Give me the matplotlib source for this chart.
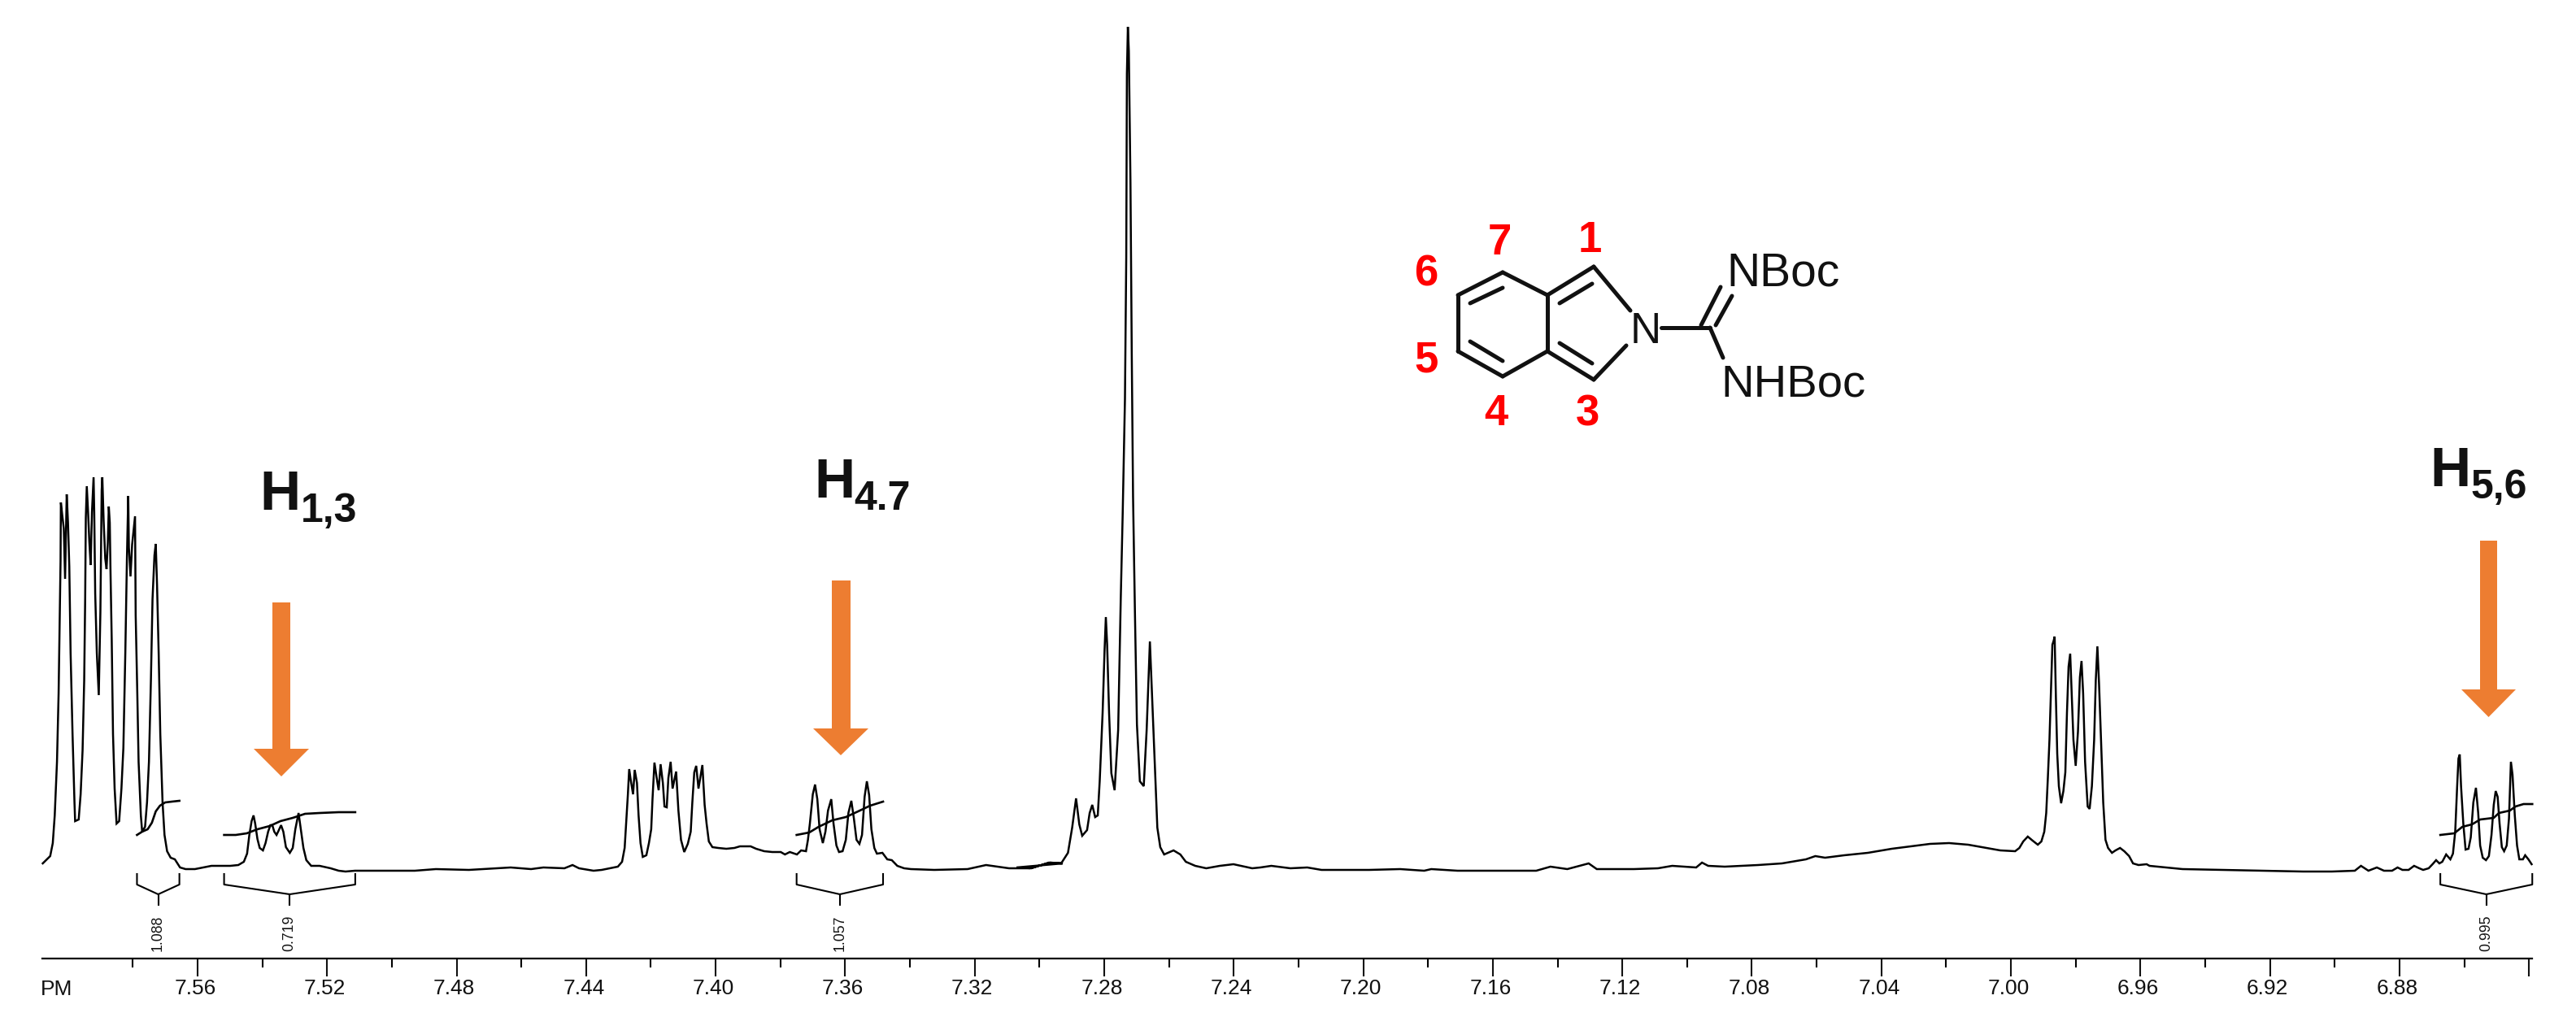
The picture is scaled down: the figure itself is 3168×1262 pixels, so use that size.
import numpy as np
import matplotlib
matplotlib.use("Agg")
import matplotlib.pyplot as plt
from matplotlib.patches import Polygon
from matplotlib.transforms import Affine2D, ScaledTranslation
from matplotlib.ticker import FixedLocator, FixedFormatter

plt.rcParams['font.family'] = ['Liberation Sans', 'DejaVu Sans']

# ---- spectrum: chemical shift (ppm) and intensity (a.u.)
ppm_a = [7.6078,7.6055,7.6047,7.6041,7.6034,7.6029,7.6026,7.6023,7.6022,7.6018,7.6013,7.6009,7.6004,7.6000,7.5996,7.5992,7.5986,7.5980,7.5978,7.5967,7.5961,7.5955,7.5950,7.5947,7.5945,7.5942,7.5938,7.5934,7.5930,7.5926,7.5921,7.5919,7.5916,7.5911,7.5905,7.5900,7.5896,7.5894,7.5890,7.5885,7.5881,7.5877,7.5874,7.5871,7.5869,7.5865,7.5861,7.5856,7.5850,7.5842,7.5835,7.5829,7.5823,7.5818,7.5814,7.5812,7.5807,7.5802,7.5793,7.5791,7.5786,7.5782,7.5775,7.5771,7.5762,7.5756,7.5750,7.5744,7.5739,7.5733,7.5729,7.5725,7.5720,7.5715,7.5708,7.5702,7.5694,7.5683,7.5670,7.5654,7.5637,7.5608]
int_a = [8,17,33,67,133,217,300,380,452,437,420,358,462,427,373,267,167,83,60,62,93,147,233,333,433,472,440,403,375,440,483,440,340,267,215,317,467,483,430,383,370,403,447,427,373,283,167,100,57,60,100,150,267,383,460,397,361,400,435,313,217,133,67,47,53,83,133,233,333,387,401,350,267,167,83,43,23,15,13,3,1,1]

ppm_b = [7.5557,7.5532,7.5499,7.5474,7.5457,7.5447,7.5440,7.5433,7.5427,7.5422,7.5415,7.5408,7.5398,7.5390,7.5382,7.5375,7.5369,7.5363,7.5356,7.5350,7.5342,7.5335,7.5327,7.5315,7.5306,7.5298,7.5288,7.5281,7.5273,7.5264,7.5249,7.5223,7.5189,7.5164,7.5143,7.5114,7.5055]
int_b = [5,5,5,6,10,20,43,60,67,57,38,27,24,33,47,55,55,47,43,48,55,47,28,21,27,50,70,50,27,12,5,5,2,-1,-2,-1,-1]

ppm_c = [7.4929,7.4864,7.4762,7.4633,7.4570,7.4532,7.4467,7.4442,7.4422,7.4377]
int_c = [-1,1,0,3,1,3,2,6,2,-1]

ppm_d = [7.4352,7.4327,7.4302,7.4289,7.4281,7.4277,7.4271,7.4267,7.4262,7.4255,7.4250,7.4243,7.4238,7.4232,7.4225,7.4214,7.4206,7.4199,7.4195,7.4189,7.4182,7.4176,7.4170,7.4163,7.4158,7.4151,7.4146,7.4139,7.4133,7.4122,7.4115,7.4107,7.4097,7.4086,7.4077,7.4072,7.4066,7.4060,7.4053,7.4041,7.4034,7.4028,7.4021,7.4010,7.3992,7.3967,7.3942,7.3925,7.3892,7.3875,7.3850,7.3825]
int_d = [0,2,4,10,27,53,93,124,110,93,123,107,67,33,16,18,33,50,87,132,113,98,130,107,78,77,113,133,100,121,73,37,22,32,47,83,120,128,100,129,80,57,35,28,27,26,27,29,29,26,23,22]

ppm_f = [7.3799,7.3786,7.3771,7.3749,7.3736,7.3721,7.3715,7.3709,7.3700,7.3693,7.3686,7.3679,7.3669,7.3661,7.3653,7.3643,7.3636,7.3627,7.3619,7.3608,7.3598,7.3590,7.3581,7.3573,7.3565,7.3556,7.3548,7.3540,7.3533,7.3526,7.3519,7.3510,7.3502,7.3485,7.3470,7.3456,7.3439,7.3418,7.3397]
int_f = [22,19,22,19,24,23,37,57,93,105,87,50,33,47,73,87,57,30,22,23,37,70,85,63,37,32,43,90,109,92,50,27,20,21,13,12,5,2,1]

ppm_g = [7.3325,7.3222,7.3165,7.3094,7.3030,7.2966,7.2928]
int_g = [0,1,6,2,2,9,8]

ppm_h = [7.3071,7.3025,7.2971,7.2933,7.2912,7.2899,7.2887,7.2877,7.2868,7.2853,7.2845,7.2837,7.2828,7.2820,7.2814,7.2805,7.2799,7.2795,7.2791,7.2785,7.2778,7.2768,7.2757,7.2749,7.2743,7.2736,7.2732,7.2730,7.2727,7.2724,7.2719,7.2715,7.2711,7.2705,7.2699,7.2690,7.2678,7.2669,7.2659,7.2653,7.2644,7.2636,7.2627,7.2615,7.2598,7.2586,7.2565,7.2548,7.2519,7.2485,7.2443,7.2401,7.2343,7.2318]
int_h = [3,2,9,8,21,52,88,56,42,49,70,80,65,67,109,193,270,311,277,193,119,98,172,333,438,579,754,979,1037,1007,845,635,459,312,179,109,103,172,281,221,130,52,28,19,22,24,19,10,5,2,5,7,2,3]

ppm_i = [7.2284,7.2225,7.2173,7.2129,7.1982,7.1886,7.1812,7.1790,7.1709,7.1562,7.1466,7.1422,7.1370,7.1304,7.1279,7.1164,7.1090,7.1046,7.0972,7.0954,7.0935,7.0884,7.0781,7.0707,7.0633,7.0604,7.0574,7.0515,7.0442,7.0368,7.0309,7.0250,7.0191,7.0132]
int_i = [5,2,3,0,0,1,-1,1,-1,-1,-1,4,1,8,1,1,2,5,3,9,5,4,6,8,13,17,15,18,21,26,29,32,33,31]

ppm_j = [7.0033,6.9987,6.9974,6.9962,6.9948,6.9933,6.9917,6.9906,6.9897,6.9891,6.9886,6.9881,6.9876,6.9872,6.9868,6.9865,6.9861,6.9857,6.9852,6.9845,6.9838,6.9832,6.9827,6.9822,6.9817,6.9813,6.9807,6.9800,6.9793,6.9787,6.9782,6.9777,6.9771,6.9763,6.9757,6.9750,6.9743,6.9738,6.9733,6.9728,6.9722,6.9715,6.9708,6.9700,6.9688,6.9677,6.9663,6.9650,6.9635,6.9623,6.9606,6.9581]
int_j = [24,23,27,35,41,36,31,35,47,70,113,160,227,277,282,287,210,143,103,82,97,120,193,250,266,223,160,128,170,237,257,217,133,78,75,103,160,233,275,230,163,83,37,27,21,24,27,23,17,8,6,7]

ppm_k = [6.9572,6.9470,6.9342,6.9226,6.9098,6.9009,6.8938,6.8919,6.8896,6.8870,6.8848,6.8823,6.8806,6.8791,6.8772,6.8755]
int_k = [5,1,0,-1,-2,-2,-1,5,-1,3,-1,-1,3,0,0,5]

ppm_l = [6.8739,6.8727,6.8710,6.8698,6.8687,6.8677,6.8668,6.8656,6.8643,6.8635,6.8628,6.8622,6.8618,6.8614,6.8610,6.8603,6.8596,6.8587,6.8580,6.8572,6.8564,6.8557,6.8551,6.8543,6.8533,6.8524,6.8516,6.8509,6.8503,6.8497,6.8491,6.8484,6.8477,6.8469,6.8462,6.8456,6.8451,6.8444,6.8437,6.8430,6.8419,6.8412,6.8402,6.8392]
int_l = [2,0,2,7,12,8,10,19,13,20,47,103,137,142,103,57,25,26,40,83,101,70,30,15,12,17,43,80,97,90,57,28,23,30,63,133,117,67,30,13,13,18,13,7]

# ---- integral curves
integ1_ppm = [7.5787,7.5771,7.5754,7.5741,7.5729,7.5716,7.5700,7.5679,7.5656]
integ1_int = [43,47,50,58,72,79,83,84,85]
integ2_ppm = [7.5518,7.5482,7.5448,7.5415,7.5377,7.5344,7.5306,7.5268,7.5223,7.5164,7.5113]
integ2_int = [43,43,45,50,54,60,64,69,70,71,71]
integ3_ppm = [7.3750,7.3711,7.3682,7.3640,7.3598,7.3560,7.3523,7.3483]
integ3_int = [43,46,53,61,65,72,79,84]
integ4_ppm = [6.8674,6.8631,6.8606,6.8576,6.8551,6.8509,6.8493,6.8459,6.8442,6.8417,6.8390]
integ4_int = [43,45,53,56,62,64,70,73,78,81,81]
integ_labels = ["1.088", "0.719", "1.057", "0.995"]

# ---- axis ticks
major_ticks = [7.56,7.52,7.48,7.44,7.40,7.36,7.32,7.28,7.24,7.20,7.16,7.12,7.08,7.04,7.00,6.96,6.92,6.88,6.84]
major_labels = ["7.56","7.52","7.48","7.44","7.40","7.36","7.32","7.28","7.24","7.20","7.16","7.12","7.08","7.04","7.00","6.96","6.92","6.88",""]
minor_ticks = [7.58,7.54,7.50,7.46,7.42,7.38,7.34,7.30,7.26,7.22,7.18,7.14,7.10,7.06,7.02,6.98,6.94,6.90,6.86]

W, H = 3168, 1262
fig = plt.figure(figsize=(W/100, H/100), dpi=100, facecolor='white')
ax = fig.add_axes([0, 0, 1, 1])
ax.set_xlim(7.6210, 6.8255)
ax.set_ylim(-192, 1070)
ax.patch.set_visible(False)
for s in ['top', 'left', 'right']:
    ax.spines[s].set_visible(False)
ax.spines['bottom'].set_position(('data', -109))
ax.spines['bottom'].set_bounds(7.608, 6.839)
ax.spines['bottom'].set_linewidth(1.6)
ax.yaxis.set_visible(False)
ax.xaxis.set_major_locator(FixedLocator(major_ticks))
ax.xaxis.set_major_formatter(FixedFormatter(major_labels))
ax.xaxis.set_minor_locator(FixedLocator(minor_ticks))
ax.tick_params(axis='x', which='major', length=15.5, width=1.5, labelsize=19, pad=2.5, colors='#111111')
ax.tick_params(axis='x', which='minor', length=8, width=1.5)
shift = ScaledTranslation(-3/100, 0, fig.dpi_scale_trans)
for lab in ax.get_xticklabels():
    lab.set_transform(lab.get_transform() + shift)

# spectrum
ppm = np.array(ppm_a+ppm_b+ppm_c+ppm_d+ppm_f+ppm_g+ppm_h+ppm_i+ppm_j+ppm_k+ppm_l)
intensity = np.array(int_a+int_b+int_c+int_d+int_f+int_g+int_h+int_i+int_j+int_k+int_l)
ax.plot(ppm, intensity, color='black', lw=1.8, solid_joinstyle='miter')

# integrals with brackets and values
integrals = [(integ1_ppm, integ1_int), (integ2_ppm, integ2_int), (integ3_ppm, integ3_int), (integ4_ppm, integ4_int)]
for (ip, ii), lab in zip(integrals, integ_labels):
    ax.plot(ip, ii, color='black', lw=1.9)
    a, b = ip[0], ip[-1]
    m = (a + b) / 2
    ax.plot([a, a, m, b, b], [-5, -18, -30, -18, -5], color='black', lw=1.5)
    ax.plot([m, m], [-30, -43], color='black', lw=1.5)
    ax.text(m, -78, lab, rotation=90, ha='center', va='center', fontsize=12.7, color='#111111')

# decoration placed in image pixels
px = Affine2D().scale(1, -1).translate(0, H)

ax.text(50, 1224, "PM", transform=px, fontsize=19, color='#111111', ha='left', va='baseline')

ORANGE = '#ED7D31'
arrows = [(335, 357, 741, 921, 312, 380, 955),
          (1023, 1046, 714, 896, 1000, 1068, 929),
          (3050, 3071, 665, 848, 3027, 3094, 882)]
for x0, x1, top, base, hl, hr, tip in arrows:
    xm = (hl + hr) / 2
    ax.add_patch(Polygon([(x0, top), (x1, top), (x1, base), (hr, base), (xm, tip), (hl, base), (x0, base)],
                         closed=True, transform=px, facecolor=ORANGE, edgecolor='none'))

peak_labels = [("H", "1,3", 319, 627, 370, 642), ("H", "4.7", 1001, 612, 1050, 627), ("H", "5,6", 2988, 598, 3038, 613)]
for h, sub, xh, yh, xs, ys in peak_labels:
    ax.text(xh, yh, h, transform=px, fontsize=50, fontweight='bold', color='#111111', ha='left', va='baseline')
    ax.text(xs, ys, sub, transform=px, fontsize=36, fontweight='bold', color='#111111', ha='left', va='baseline')

# structure
bonds = [((1848,335),(1903,363)), ((1903,363),(1903,432)), ((1903,432),(1848,463)), ((1848,463),(1793,432)),
         ((1793,432),(1793,363)), ((1793,363),(1848,335)),
         ((1808,373),(1848,354)), ((1808,420),(1848,444)), ((1918,373),(1958,349)), ((1918,422),(1958,447)),
         ((1903,363),(1960,328)), ((1960,328),(2005,382)), ((1903,432),(1960,467)), ((1960,467),(2000,425)),
         ((2043,403),(2103,403)), ((2103,403),(2119,440)), ((2092,400),(2116,353)), ((2110,400),(2130,364))]
for p, q in bonds:
    ax.plot([p[0], q[0]], [p[1], q[1]], transform=px, color='#111111', lw=3.6, solid_capstyle='round')
ax.text(2005, 422, "N", transform=px, fontsize=38, color='#111111', ha='left', va='baseline')
ax.text(2123, 352, "NBoc", transform=px, fontsize=41, color='#111111', ha='left', va='baseline')
ax.text(2116, 487, "NHBoc", transform=px, fontsize=40.5, color='#111111', ha='left', va='baseline')
for t, x, y in [("7", 1844, 313), ("1", 1955, 310), ("6", 1754, 352), ("5", 1754, 458), ("4", 1840, 523), ("3", 1952, 523)]:
    ax.text(x, y, t, transform=px, fontsize=38, fontweight='bold', color='#FF0000', ha='center', va='baseline')

fig.savefig('out.png', dpi=100, facecolor='white')
